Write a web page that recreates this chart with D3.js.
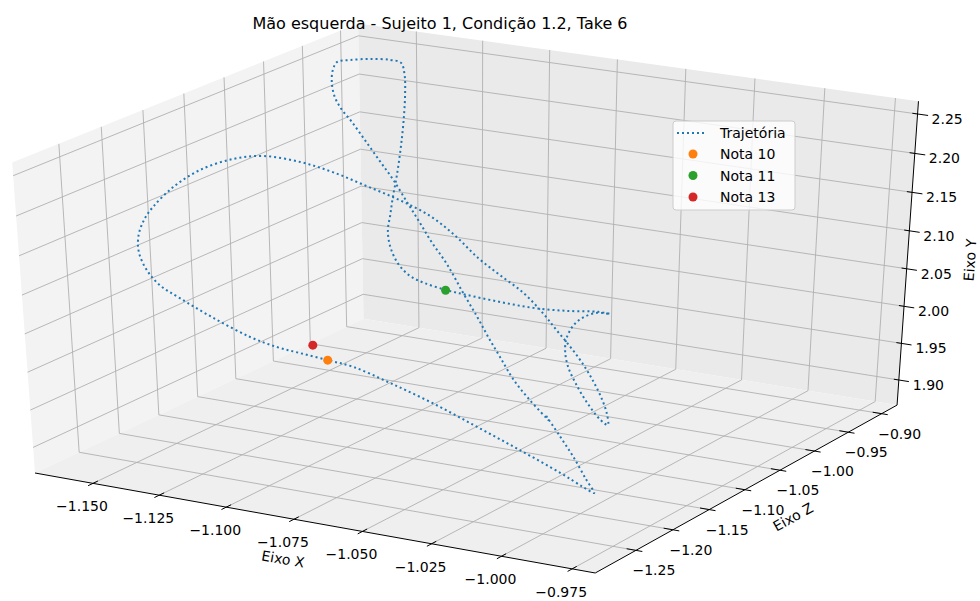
<!DOCTYPE html>
<meta charset="utf-8">
<style>
body{margin:0;background:#fff;}
text{font-family:"DejaVu Sans",sans-serif;fill:#000;font-size:14px;}
.grid{stroke:#b0b0b0;stroke-width:0.9;fill:none;}
.axisline{stroke:#000;stroke-width:1;fill:none;}
.traj{fill:none;stroke:#1f77b4;stroke-width:2;stroke-dasharray:2,3;}
</style>
<svg width="980" height="601"></svg>
<script src="https://d3js.org/d3.v7.min.js"></script>
<script>

// axis ticks and limits
var xTicks = [-1.150, -1.125, -1.100, -1.075, -1.050, -1.025, -1.000, -0.975];
var yTicks = [-1.25, -1.20, -1.15, -1.10, -1.05, -1.00, -0.95, -0.90];
var zTicks = [1.90, 1.95, 2.00, 2.05, 2.10, 2.15, 2.20, 2.25];
var xLim = [-1.1721, -0.9669], yLim = [-1.304, -0.8765], zLim = [1.8654, 2.2661];

// trajectory (Eixo X, Eixo Z, Eixo Y)
var trajX = [-1.0216,-1.0142,-1.0071,-1.0001,-0.9960,-1.0000,-1.0072,-1.0204,-1.0336,-1.0482,
  -1.0613,-1.0734,-1.0812,-1.0901,-1.0985,-1.1070,-1.1191,-1.1296,-1.1368,-1.1413,
  -1.1439,-1.1453,-1.1455,-1.1460,-1.1462,-1.1439,-1.1394,-1.1335,-1.1237,-1.1142,
  -1.1018,-1.0899,-1.0766,-1.0664,-1.0557,-1.0443,-1.0337,-1.0208,-1.0124,-1.0043,
  -0.9974,-0.9901,-0.9849,-0.9808,-0.9804,-0.9843,-0.9924,-0.9997,-1.0060,-1.0106,
  -1.0134,-1.0144,-1.0143,-1.0120,-1.0085,-1.0150,-1.0306,-1.0475,-1.0642,-1.0811,
  -1.0909,-1.1028,-1.1108,-1.1177,-1.1231,-1.1250,-1.1266,-1.1279,-1.1291,-1.1303,
  -1.1328,-1.1355,-1.1387,-1.1411,-1.1438,-1.1479,-1.1555,-1.1606,-1.1631,-1.1634,
  -1.1627,-1.1595,-1.1557,-1.1504,-1.1427,-1.1363,-1.1290,-1.1189,-1.1069,-1.0964,
  -1.0849,-1.0731,-1.0632,-1.0556,-1.0477,-1.0391,-1.0297,-1.0194];
var trajY = [-1.167,-1.176,-1.184,-1.193,-1.197,-1.197,-1.201,-1.206,-1.214,-1.219,
  -1.227,-1.231,-1.236,-1.240,-1.240,-1.244,-1.248,-1.253,-1.253,-1.253,
  -1.253,-1.248,-1.240,-1.227,-1.201,-1.176,-1.150,-1.133,-1.120,-1.112,
  -1.112,-1.112,-1.120,-1.124,-1.133,-1.146,-1.154,-1.176,-1.189,-1.201,
  -1.210,-1.223,-1.231,-1.240,-1.240,-1.236,-1.223,-1.210,-1.197,-1.184,
  -1.172,-1.159,-1.146,-1.137,-1.133,-1.124,-1.107,-1.090,-1.073,-1.056,
  -1.048,-1.035,-1.026,-1.018,-1.009,-1.005,-0.996,-0.988,-0.979,-0.971,
  -0.958,-0.945,-0.932,-0.924,-0.919,-0.919,-0.919,-0.928,-0.936,-0.941,
  -0.945,-0.953,-0.958,-0.962,-0.971,-0.975,-0.983,-1.000,-1.026,-1.048,
  -1.069,-1.090,-1.107,-1.120,-1.133,-1.146,-1.159,-1.172];
var trajZ = [1.9646,1.9471,1.9281,1.9079,1.8941,1.8995,1.9159,1.9402,1.9667,1.9914,
  2.0139,2.0295,2.0361,2.0420,2.0449,2.0549,2.0745,2.0962,2.1088,2.1254,
  2.1469,2.1644,2.1806,2.1910,2.2047,2.2162,2.2213,2.2208,2.2127,2.2014,
  2.1901,2.1787,2.1692,2.1513,2.1330,2.1236,2.1106,2.1026,2.0920,2.0813,
  2.0679,2.0557,2.0401,2.0290,2.0152,2.0183,2.0287,2.0410,2.0526,2.0629,
  2.0730,2.0828,2.0870,2.0894,2.0880,2.0828,2.0670,2.0532,2.0434,2.0350,
  2.0321,2.0287,2.0295,2.0391,2.0548,2.0731,2.0883,2.1063,2.1256,2.1436,
  2.1669,2.1927,2.2156,2.2329,2.2454,2.2473,2.2449,2.2446,2.2442,2.2354,
  2.2220,2.2089,2.1970,2.1832,2.1660,2.1449,2.1275,2.1101,2.1018,2.0923,
  2.0796,2.0583,2.0405,2.0249,2.0095,1.9907,1.9764,1.9628];

// notes
var notas = ["Nota 10", "Nota 11", "Nota 13"];
var notaX = [-1.0812, -1.0913, -1.0865];
var notaY = [-1.236, -1.048, -1.236];
var notaZ = [2.0361, 2.0318, 2.0524];
var notaColors = ["#ff7f0e", "#2ca02c", "#d62728"];

var svg = d3.select("svg");

// view: elev 30, azim -60, perspective
var elev = 30 * Math.PI / 180, azim = -60 * Math.PI / 180, dist = 10;
var n = [Math.cos(azim) * Math.cos(elev), Math.sin(azim) * Math.cos(elev), Math.sin(elev)];
var un = Math.hypot(n[0], n[1]);
var u = [-n[1] / un, n[0] / un, 0];
var v = [n[1]*u[2] - n[2]*u[1], n[2]*u[0] - n[0]*u[2], n[0]*u[1] - n[1]*u[0]];

var fxS = d3.scaleLinear().domain(xLim).range([-0.5, 0.5]);
var fyS = d3.scaleLinear().domain(yLim).range([-0.5, 0.5]);
var fzS = d3.scaleLinear().domain(zLim).range([-0.5, 0.5]);
var sx = d3.scaleLinear().domain([-0.1, 0.1]).range([-174, 1119.4]);
var sy = d3.scaleLinear().domain([-0.1, 0.1]).range([643.2, -65.6]);

function dot(a, b) { return a[0]*b[0] + a[1]*b[1] + a[2]*b[2]; }
function project(p) {
  var d = [fxS(p[0]), fyS(p[1]), fzS(p[2])];
  var w = dist - dot(n, d);
  return [sx(dot(u, d) / w), sy(dot(v, d) / w)];
}

var x0 = xLim[0], x1 = xLim[1], y0 = yLim[0], y1 = yLim[1], z0 = zLim[0], z1 = zLim[1];
var line = d3.line();
function path3(pts) { return line(pts.map(project)); }

// panes
svg.append("path").attr("d", path3([[x0,y0,z0],[x0,y1,z0],[x0,y1,z1],[x0,y0,z1]]) + "Z").attr("fill", "#f3f3f3");
svg.append("path").attr("d", path3([[x0,y1,z0],[x1,y1,z0],[x1,y1,z1],[x0,y1,z1]]) + "Z").attr("fill", "#eaeaea");
svg.append("path").attr("d", path3([[x0,y0,z0],[x1,y0,z0],[x1,y1,z0],[x0,y1,z0]]) + "Z").attr("fill", "#efefef");

// grid
var g = svg.append("g").attr("class", "grid");
xTicks.forEach(function(t) { g.append("path").attr("d", path3([[t,y0,z0],[t,y1,z0],[t,y1,z1]])); });
yTicks.forEach(function(t) { g.append("path").attr("d", path3([[x1,t,z0],[x0,t,z0],[x0,t,z1]])); });
zTicks.forEach(function(t) { g.append("path").attr("d", path3([[x0,y0,t],[x0,y1,t],[x1,y1,t]])); });

// axis lines + ticks
var ax = svg.append("g").attr("class", "axisline");
ax.append("path").attr("d", path3([[x0,y0,z0],[x1,y0,z0]]));
ax.append("path").attr("d", path3([[x1,y0,z0],[x1,y1,z0]]));
ax.append("path").attr("d", path3([[x1,y1,z0],[x1,y1,z1]]));
var dyr = y1 - y0, dxr = x1 - x0;
xTicks.forEach(function(t) { ax.append("path").attr("d", path3([[t,y0 + 0.014*dyr,z0],[t,y0 - 0.014*dyr,z0]])); });
yTicks.forEach(function(t) { ax.append("path").attr("d", path3([[x1 - 0.016*dxr,t,z0],[x1 + 0.011*dxr,t,z0]])); });
zTicks.forEach(function(t) { ax.append("path").attr("d", path3([[x1 - 0.009*dxr,y1,t],[x1 + 0.018*dxr,y1,t]])); });

var fmt3 = d3.format(".3f"), fmt2 = d3.format(".2f");
xTicks.forEach(function(t) {
  var p = project([t, y0, z0]);
  svg.append("text").attr("x", p[0] - 11).attr("y", p[1] + 23).attr("text-anchor", "middle")
    .attr("dominant-baseline", "central").text(fmt3(t));
});
yTicks.forEach(function(t) {
  var p = project([x1, t, z0]);
  svg.append("text").attr("x", p[0] + 18).attr("y", p[1] + 20).attr("text-anchor", "middle")
    .attr("dominant-baseline", "central").text(fmt2(t));
});
zTicks.forEach(function(t) {
  var p = project([x1, y1, t]);
  svg.append("text").attr("x", p[0] + 14).attr("y", p[1] + 5)
    .attr("dominant-baseline", "central").text(fmt2(t));
});

// axis labels
svg.append("text").attr("transform", "translate(283,559) rotate(10)").attr("text-anchor", "middle")
  .attr("dominant-baseline", "central").text("Eixo X");
svg.append("text").attr("transform", "translate(793,517) rotate(-29)").attr("text-anchor", "middle")
  .attr("dominant-baseline", "central").text("Eixo Z");
svg.append("text").attr("transform", "translate(970,260) rotate(-86)").attr("text-anchor", "middle")
  .attr("dominant-baseline", "central").text("Eixo Y");

// trajectory
var traj = trajX.map(function(x, i) { return [x, trajY[i], trajZ[i]]; });
svg.append("path").attr("class", "traj")
  .attr("d", d3.line().curve(d3.curveCatmullRom)(traj.map(project)));

notas.forEach(function(d, i) {
  var q = project([notaX[i], notaY[i], notaZ[i]]);
  svg.append("circle").attr("cx", q[0]).attr("cy", q[1]).attr("r", 4.5).attr("fill", notaColors[i]);
});

// title
svg.append("text").attr("x", 440).attr("y", 29).attr("text-anchor", "middle").style("font-size", "16px")
  .text("Mão esquerda - Sujeito 1, Condição 1.2, Take 6");

// legend
var lg = svg.append("g").attr("transform", "translate(673,121)");
lg.append("rect").attr("width", 122).attr("height", 89).attr("rx", 3)
  .attr("fill", "#fff").attr("fill-opacity", 0.8).attr("stroke", "#cccccc");
lg.append("line").attr("class", "traj").attr("x1", 4).attr("x2", 32).attr("y1", 12).attr("y2", 12);
lg.append("text").attr("x", 47).attr("y", 12).attr("dominant-baseline", "central").text("Trajetória");
notas.forEach(function(d, i) {
  var yy = 33 + i * 21.5;
  lg.append("circle").attr("cx", 20).attr("cy", yy).attr("r", 4.5).attr("fill", notaColors[i]);
  lg.append("text").attr("x", 47).attr("y", yy).attr("dominant-baseline", "central").text(d);
});

</script>
